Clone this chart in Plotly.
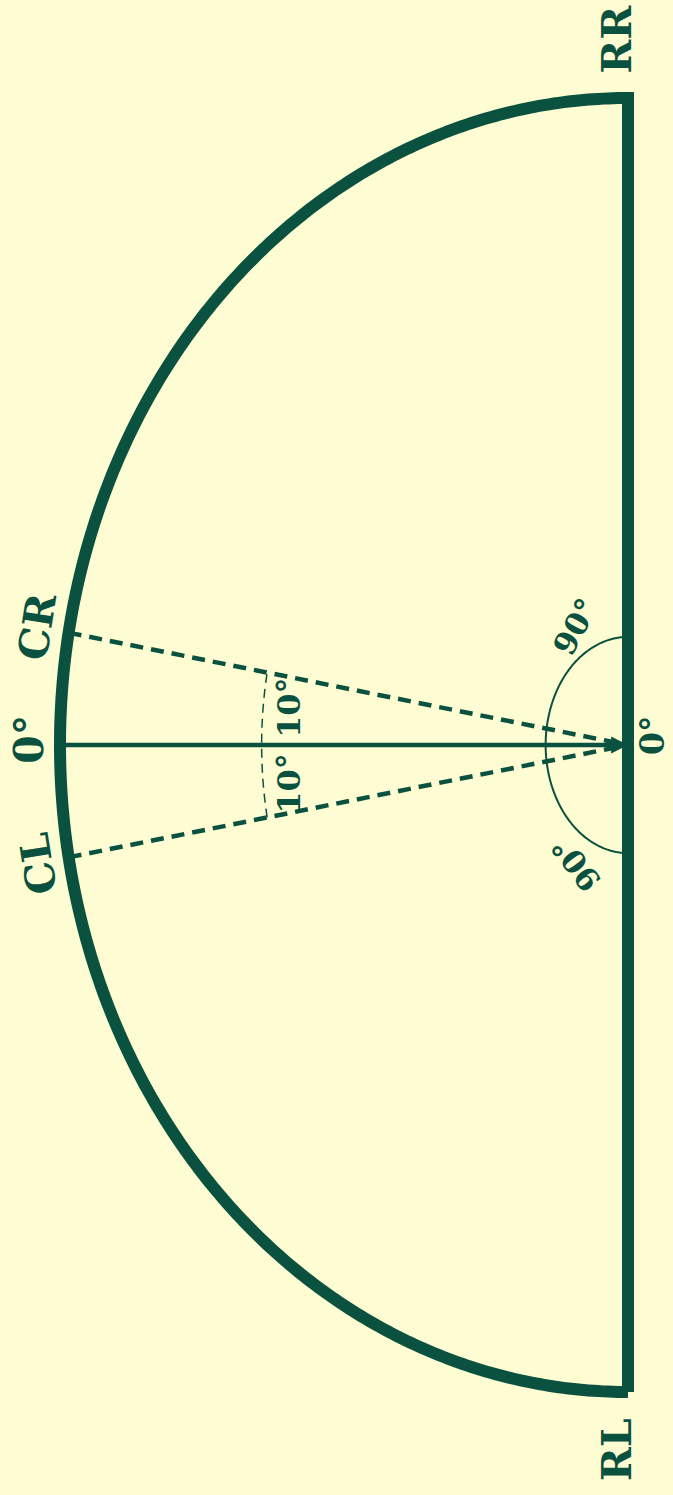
import numpy as np
import plotly.graph_objects as go

# ---- data ----
outer_labels = ["RL", "CL", "0°", "CR", "RR"]
outer_angles = [-90, -10, 0, 10, 90]
outer_rot = [-90, -99, -90, -81, -90]
cone_angles = [-10, 10]
split_labels = ["10°", "10°"]
split_angles = [-5.6, 5.6]
side_labels = ["90°", "90°"]
side_angles = [-60, 60]
side_rot = [-127, -62]
baseline_label = "0°"
field_span = [-90, 90]

GREEN = "#0b5140"
BG = "#fefcd2"
FONT = "DejaVu Serif"

def pt(a, r=1.0, rx=None, ry=None):
    rx = r if rx is None else rx
    ry = r if ry is None else ry
    t = np.radians(a)
    return rx * np.cos(t), ry * np.sin(t)

fig = go.Figure()

# outer arc + baseline (closed outline)
th = np.linspace(field_span[0], field_span[1], 361)
ax_, ay_ = pt(th)
xs = list(ax_) + [ax_[0]]
ys = list(ay_) + [ay_[0]]
fig.add_trace(go.Scatter(x=xs, y=ys, mode="lines",
                         line=dict(color=GREEN, width=12, simplify=False),
                         hoverinfo="skip"))

# cone dashed lines
for a in cone_angles:
    ex, ey = pt(a)
    fig.add_trace(go.Scatter(x=[ex, 0], y=[ey, 0], mode="lines",
                             line=dict(color=GREEN, width=4.5, dash="13px,8px"),
                             hoverinfo="skip"))

# small dashed arc between cone lines
ts = np.linspace(cone_angles[0], cone_angles[1], 60)
sx, sy = pt(ts, 0.645)
fig.add_trace(go.Scatter(x=sx, y=sy, mode="lines",
                         line=dict(color=GREEN, width=1.5, dash="9px,6px", simplify=False),
                         hoverinfo="skip"))

# 90° arc near centre
tq = np.linspace(field_span[0], field_span[1], 181)
qx, qy = pt(tq, rx=0.145, ry=0.167)
fig.add_trace(go.Scatter(x=qx, y=qy, mode="lines",
                         line=dict(color=GREEN, width=2, simplify=False),
                         hoverinfo="skip"))

annotations = []
# main 0° arrow
zx, zy = pt(0)
annotations.append(dict(x=0, y=0, ax=zx, ay=zy, xref="x", yref="y",
                        axref="x", ayref="y", text="", showarrow=True,
                        arrowhead=2, arrowsize=0.75, arrowwidth=4.5,
                        arrowcolor=GREEN, standoff=0))

# outer labels
for lab, a, rot in zip(outer_labels, outer_angles, outer_rot):
    if abs(a) == 90:
        x, y = pt(a, 1.09)
        xs_, ys_ = -11, 0
    else:
        x, y = pt(a, 1.055)
        xs_, ys_ = 0, (6 if a == 0 else 0)
    annotations.append(dict(x=x, y=y, xref="x", yref="y", text=lab,
                            showarrow=False, textangle=rot, xshift=xs_, yshift=ys_,
                            borderpad=0,
                            font=dict(family=FONT, size=41, color=GREEN, weight=700)))

# baseline 0° label
annotations.append(dict(x=0, y=0, xref="x", yref="y", text=baseline_label,
                        showarrow=False, textangle=-90, xshift=24, yshift=9,
                        borderpad=0,
                        font=dict(family=FONT, size=33, color=GREEN, weight=700)))

# 10° labels
for lab, a in zip(split_labels, split_angles):
    x, y = pt(a, 0.600)
    annotations.append(dict(x=x, y=y, xref="x", yref="y", text=lab,
                            showarrow=False, textangle=-90, borderpad=0,
                            font=dict(family=FONT, size=32, color=GREEN, weight=700)))

# 90° labels
for lab, a, rot in zip(side_labels, side_angles, side_rot):
    x, y = pt(a, rx=0.145 * 1.27, ry=0.167 * 1.27)
    annotations.append(dict(x=x, y=y, xref="x", yref="y", text=lab,
                            showarrow=False, textangle=rot, borderpad=0,
                            font=dict(family=FONT, size=31, color=GREEN, weight=700)))

cx_px, cy_px = 628, 745
rx_px, ry_px = 568, 647
W, H = 673, 1495

fig.update_layout(
    width=W, height=H,
    margin=dict(l=0, r=0, t=0, b=0),
    paper_bgcolor=BG, plot_bgcolor=BG,
    showlegend=False,
    annotations=annotations,
    xaxis=dict(range=[cx_px / rx_px, (cx_px - W) / rx_px], visible=False, fixedrange=True),
    yaxis=dict(range=[(cy_px - H) / ry_px, cy_px / ry_px], visible=False, fixedrange=True),
)

fig.write_html("out.html",
               config={"displayModeBar": False},
               post_script="document.body.style.margin='0';document.body.style.overflow='hidden';document.body.style.background='" + BG + "';")
